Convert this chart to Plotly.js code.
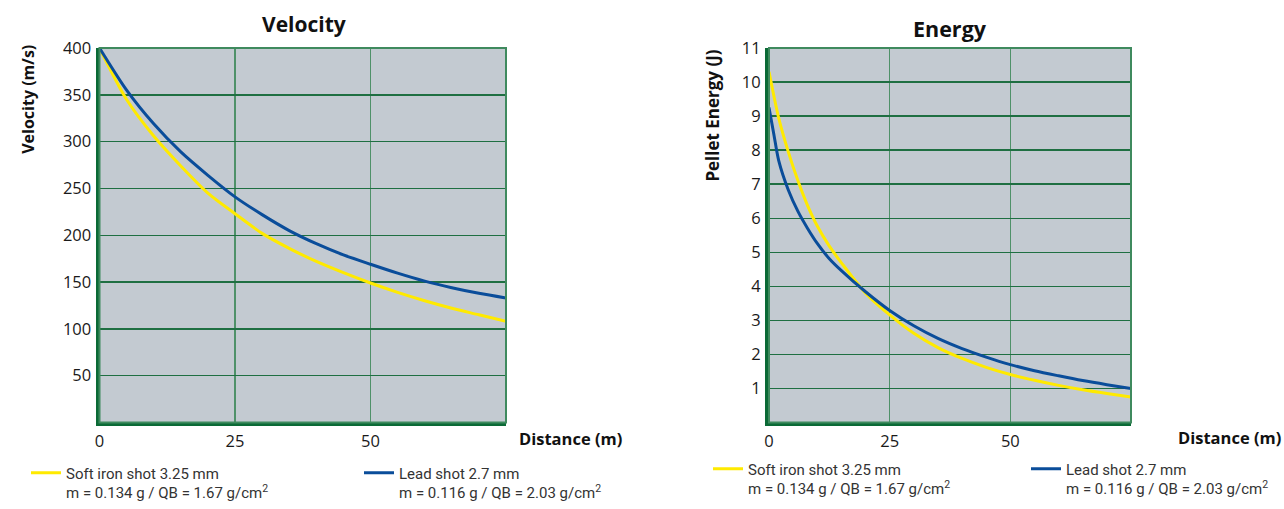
<!DOCTYPE html>
<html>
<head>
<meta charset="utf-8">
<script src="https://cdn.plot.ly/plotly-3.0.1.min.js"></script>
<style>
  html, body { margin: 0; padding: 0; background: #ffffff; overflow: hidden; }
  #chart { width: 1284px; height: 509px; overflow: hidden; }
</style>
</head>
<body>
<div id="chart"></div>
<script>
// ---- Data ----
const velocityDistance = [0, 5, 10, 15, 20, 25, 30, 35, 40, 45, 50, 55, 60, 65, 70, 75];
const velocityIron = [400, 345, 306, 274, 245, 223, 202, 186, 172, 160, 149, 139, 130, 122, 115, 108];
const velocityLead = [400, 355, 319, 289, 264, 241, 222, 205, 191, 179, 169, 159.5, 151, 144, 138, 133];

const energyDistance = [0, 1, 2, 4, 6, 8, 10, 12.5, 15, 20, 25, 30, 35, 40, 45, 50, 55, 60, 65, 70, 75];
const energyIron = [10.3, 9.6, 8.95, 7.95, 7.1, 6.37, 5.77, 5.18, 4.69, 3.80, 3.16, 2.62, 2.2, 1.88, 1.62, 1.41, 1.24, 1.09, 0.96, 0.85, 0.75];
const energyLead = [9.25, 8.47, 7.7, 6.83, 6.2, 5.7, 5.26, 4.81, 4.46, 3.84, 3.29, 2.84, 2.47, 2.17, 1.92, 1.70, 1.52, 1.37, 1.23, 1.11, 1.0];

const xTickVals = [0, 25, 50];
const velocityTicks = [50, 100, 150, 200, 250, 300, 350, 400];
const energyTicks = [1, 2, 3, 4, 5, 6, 7, 8, 9, 10, 11];

const ironName = 'Soft iron shot 3.25 mm<br>m = 0.134 g / QB = 1.67 g/cm<sup>2</sup>';
const leadName = 'Lead shot 2.7 mm<br>m = 0.116 g / QB = 2.03 g/cm<sup>2</sup>';

// ---- Styles ----
const W = 1284, H = 509;
const px = v => v / W;
const py = v => 1 - v / H;
const YELLOW = '#ffea00';
const BLUE = '#0a4d9a';
const BG = '#c3cad1';
const AXIS = '#0b6a36';
const GRID_H = '#1f6f42';
const GRID_V = '#4f9169';
const BORDER = '#3f8a5e';
const tickFont = { family: '"Open Sans", "Noto Sans", sans-serif', size: 16.5, color: '#1a1a1a' };
const boldFont = (s) => ({ family: '"Open Sans", "Noto Sans", sans-serif', size: s, color: '#111', weight: 700 });
const legendFont = { family: 'Roboto, "Liberation Sans", sans-serif', size: 15, color: '#333' };

const traces = [
  { x: velocityDistance, y: velocityIron, name: ironName, xaxis: 'x', yaxis: 'y', legend: 'legend',
    mode: 'lines', line: { color: YELLOW, width: 3, shape: 'spline', smoothing: 0.8 } },
  { x: velocityDistance, y: velocityLead, name: leadName, xaxis: 'x', yaxis: 'y', legend: 'legend2',
    mode: 'lines', line: { color: BLUE, width: 3, shape: 'spline', smoothing: 0.8 } },
  { x: energyDistance, y: energyIron, name: ironName, xaxis: 'x2', yaxis: 'y2', legend: 'legend3',
    mode: 'lines', line: { color: YELLOW, width: 3, shape: 'spline', smoothing: 0.8 } },
  { x: energyDistance, y: energyLead, name: leadName, xaxis: 'x2', yaxis: 'y2', legend: 'legend4',
    mode: 'lines', line: { color: BLUE, width: 3, shape: 'spline', smoothing: 0.8 } }
];

const yDomain = [ (H - 427.5) / H, (H - 48.6) / H ];

const xBase = {
  range: [0, 75], tickvals: xTickVals, ticktext: xTickVals.map(String), ticks: '',
  showgrid: true, gridcolor: GRID_V, gridwidth: 1.4, zeroline: false,
  showline: true, linecolor: AXIS, linewidth: 4, tickfont: tickFont,
  ticklabelstandoff: 1, automargin: false, fixedrange: true
};
const yBase = {
  ticks: '', showgrid: true, gridcolor: GRID_H, gridwidth: 1.4, zeroline: false,
  showline: true, linecolor: AXIS, linewidth: 4, tickfont: tickFont,
  ticklabelstandoff: 1, automargin: false, fixedrange: true
};

const legendAt = (x, y) => ({
  orientation: 'h', x: px(x), y: py(y), xanchor: 'left', yanchor: 'top',
  valign: 'top', font: legendFont, bgcolor: 'rgba(0,0,0,0)', borderwidth: 0
});

const layout = {
  width: W, height: H,
  margin: { l: 0, r: 0, t: 0, b: 0 },
  paper_bgcolor: '#ffffff',
  plot_bgcolor: BG,
  showlegend: true,
  xaxis: Object.assign({}, xBase, { domain: [px(99.5), px(506)], anchor: 'y' }),
  yaxis: Object.assign({}, yBase, { domain: yDomain, range: [0, 400], tickvals: velocityTicks, anchor: 'x' }),
  xaxis2: Object.assign({}, xBase, { domain: [px(769), px(1131)], anchor: 'y2' }),
  yaxis2: Object.assign({}, yBase, { domain: yDomain, range: [0, 11], tickvals: energyTicks, anchor: 'x2' }),
  legend: legendAt(26, 462),
  legend2: legendAt(359, 462),
  legend3: legendAt(708, 458),
  legend4: legendAt(1026, 458),
  shapes: [
    { type: 'rect', xref: 'x domain', yref: 'y domain', x0: 0, x1: 1, y0: 0, y1: 1,
      line: { color: BORDER, width: 2 }, layer: 'above' },
    { type: 'rect', xref: 'x2 domain', yref: 'y2 domain', x0: 0, x1: 1, y0: 0, y1: 1,
      line: { color: BORDER, width: 2 }, layer: 'above' }
  ],
  annotations: [
    { text: 'Velocity', xref: 'paper', yref: 'paper', x: px(304), y: py(24),
      xanchor: 'center', yanchor: 'middle', showarrow: false, font: boldFont(21) },
    { text: 'Energy', xref: 'paper', yref: 'paper', x: px(950), y: py(29),
      xanchor: 'center', yanchor: 'middle', showarrow: false, font: boldFont(21.5) },
    { text: 'Velocity (m/s)', xref: 'paper', yref: 'paper', x: px(28), y: py(101),
      xanchor: 'center', yanchor: 'middle', textangle: -90, showarrow: false, font: boldFont(16) },
    { text: 'Pellet Energy (J)', xref: 'paper', yref: 'paper', x: px(713), y: py(117),
      xanchor: 'center', yanchor: 'middle', textangle: -90, showarrow: false, font: boldFont(17) },
    { text: 'Distance (m)', xref: 'paper', yref: 'paper', x: px(517), y: py(444),
      xanchor: 'left', yanchor: 'middle', showarrow: false, font: boldFont(16.5) },
    { text: 'Distance (m)', xref: 'paper', yref: 'paper', x: px(1176), y: py(443),
      xanchor: 'left', yanchor: 'middle', showarrow: false, font: boldFont(16.5) }
  ]
};

Plotly.newPlot('chart', traces, layout, { displayModeBar: false, staticPlot: true });
</script>
</body>
</html>
